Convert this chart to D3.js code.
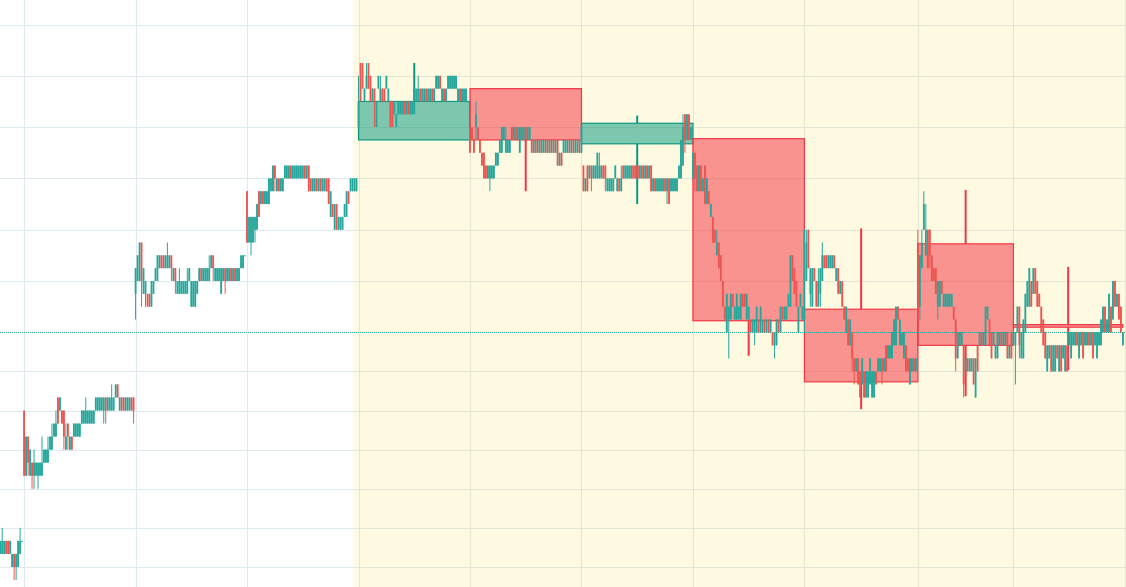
<!DOCTYPE html>
<html><head><meta charset="utf-8">
<script src="https://cdn.jsdelivr.net/npm/d3@7"></script>
<style>html,body{margin:0;padding:0;background:#fff;overflow:hidden}svg{display:block}</style>
</head><body><svg id="c" width="1126" height="587"></svg>
<script>
// Intraday candles, [open, high, low, close] in price-tick levels, one array per session
const dayA = [[2,3,2,3],[2,4,2,3],[2,3,2,3],[3,3,2,2],[3,3,2,2],[2,3,2,3],[1,2,1,2],[2,2,0,1],[1,2,0,2],[1,3,1,3],[2,4,2,3],[3,3,3,3]];
const dayB = [[13,13,8,8],[8,11,8,11],[11,11,8,9],[8,10,8,10],[9,9,7,8],[8,10,7,9],[8,9,8,9],[8,9,7,9],[8,9,8,9],[8,11,8,9],
[9,10,9,10],[9,10,9,10],[9,11,9,10],[10,11,10,11],[10,12,10,11],[11,12,11,12],[11,13,11,12],[14,14,12,12],[13,14,13,14],[13,13,12,12],
[13,13,10,11],[10,12,10,11],[12,12,10,11],[10,11,10,11],[11,11,10,10],[11,12,11,12],[11,12,11,12],[11,12,11,12],[11,12,11,12],[12,13,12,13],
[12,13,12,13],[12,14,12,13],[12,13,12,13],[12,13,12,13],[12,13,12,13],[12,13,12,13],[13,14,13,14],[13,14,13,14],[13,14,13,14],[13,14,13,14],
[13,14,12,14],[14,14,12,13],[13,14,13,14],[13,14,13,14],[13,15,13,14],[13,14,13,14],[14,15,14,15],[15,15,14,14],[13,14,13,14],[14,14,13,13],
[14,14,13,13],[13,14,13,14],[13,14,13,14],[13,14,13,14],[14,14,13,13],[14,14,12,13]];
const dayC = [[22,24,20,24],[23,25,23,25],[23,26,23,26],[26,26,21,23],[22,24,22,24],[22,23,21,23],[22,22,21,21],[22,22,21,21],[21,23,21,23],[22,23,22,23],
[23,24,23,24],[23,25,23,25],[24,25,24,25],[25,25,24,24],[25,25,24,24],[24,25,24,25],[24,26,24,25],[24,25,24,25],[25,25,23,24],[23,24,23,24],
[24,24,22,23],[22,23,22,23],[22,24,22,23],[22,23,22,23],[22,23,22,23],[22,23,22,23],[22,24,22,23],[23,24,23,24],[21,23,21,23],[21,23,21,23],
[21,23,21,23],[22,23,22,23],[23,24,23,24],[24,24,23,23],[23,24,23,24],[23,24,23,24],[23,24,23,24],[23,25,23,24],[24,25,24,25],[25,25,23,24],
[23,24,23,24],[23,24,23,24],[23,24,23,24],[22,24,22,24],[23,24,23,24],[24,24,22,23],[23,24,23,24],[23,24,23,24],[24,24,23,23],[23,24,23,24],
[24,24,23,23],[23,24,23,24],[23,24,23,24],[24,25,24,25],[24,25,24,25],[25,25,25,25]];
const dayD = [[30,30,26,26],[26,28,26,28],[26,28,25,28],[26,28,26,28],[27,28,26,28],[27,29,27,29],[30,30,28,28],[29,30,29,30],[30,30,29,29],[29,30,29,30],
[29,30,29,30],[29,31,29,31],[30,31,30,31],[30,32,30,32],[32,32,30,31],[30,31,30,31],[31,31,30,30],[30,31,30,31],[30,31,30,31],[31,32,31,32],
[31,32,31,32],[31,32,31,32],[32,32,31,31],[31,32,31,32],[31,32,31,32],[31,32,31,32],[31,32,31,32],[31,32,31,32],[31,32,31,32],[32,32,31,31],
[31,32,31,32],[32,32,30,30],[31,31,30,30],[30,31,30,31],[30,31,30,31],[31,31,30,30],[30,31,30,31],[31,31,30,30],[30,31,30,31],[30,31,30,31],
[31,31,30,30],[31,31,29,29],[28,30,28,30],[29,29,28,28],[27,29,27,29],[29,29,27,27],[27,28,27,28],[27,28,27,28],[27,28,27,28],[28,29,28,29],
[28,30,28,30],[30,30,29,29],[30,31,30,31],[30,31,30,31],[30,31,30,31],[30,31,30,31]];
const dayE = [[35,39,35,37],[40,40,37,37],[40,40,38,38],[37,38,37,38],[38,40,38,39],[40,40,38,38],[39,39,37,37],[37,38,37,38],[38,38,35,37],[35,37,35,37],
[38,39,38,39],[37,39,37,38],[38,38,37,37],[38,38,37,37],[38,39,38,39],[37,38,37,38],[37,37,35,35],[37,37,35,35],[36,37,36,37],[35,36,35,36],
[36,37,36,37],[36,37,36,37],[36,37,36,37],[37,37,36,36],[36,37,36,37],[37,37,36,36],[36,37,36,37],[36,37,36,37],[36,38,36,38],[37,38,37,38],
[37,39,37,38],[38,38,37,37],[37,38,37,38],[37,38,37,38],[38,38,37,37],[37,38,37,38],[37,38,37,38],[38,38,37,37],[37,38,37,38],[38,39,38,39],
[38,39,38,39],[39,39,38,38],[37,38,37,38],[38,38,37,37],[37,38,37,38],[38,39,38,39],[38,39,38,39],[38,39,38,39],[38,39,38,39],[38,39,38,39],
[37,38,37,38],[38,38,37,37],[37,38,37,38],[37,38,37,38],[37,38,37,38],[37,37,37,37]];
const dayF = [[35,35,33,33],[35,35,34,34],[34,34,33,33],[35,37,34,36],[35,35,34,34],[34,34,33,33],[33,33,32,32],[33,33,31,31],[32,32,31,31],[31,32,31,32],
[31,32,30,32],[31,32,31,32],[31,32,31,32],[32,33,32,33],[32,33,32,33],[33,34,33,34],[33,35,33,35],[34,35,34,35],[33,35,33,34],[33,34,33,34],
[33,34,33,34],[35,35,34,34],[34,35,34,35],[35,35,34,34],[34,35,34,35],[33,35,33,35],[34,35,34,35],[34,35,34,35],[35,35,34,34],[34,35,34,35],
[34,35,34,35],[34,34,33,33],[33,34,33,34],[34,34,33,33],[33,34,33,34],[34,34,33,33],[33,34,33,34],[33,34,33,34],[34,34,33,33],[33,34,33,34],
[34,34,33,33],[33,34,33,34],[34,34,33,33],[33,34,33,34],[34,34,32,32],[32,33,32,33],[33,33,32,32],[33,34,33,34],[33,34,33,34],[33,34,33,34],
[34,34,33,33],[33,34,33,34],[34,34,33,33],[33,34,33,34],[33,34,33,34],[34,34,33,33]];
const dayG = [[33,35,33,35],[32,32,30,30],[30,31,30,31],[32,32,30,30],[31,32,31,32],[32,32,30,31],[31,32,31,32],[31,32,31,32],[31,33,31,33],[31,33,31,32],
[31,32,31,32],[32,32,31,31],[32,32,30,31],[30,31,30,31],[30,31,30,31],[30,31,30,31],[30,31,30,31],[31,32,31,32],[30,31,30,31],[31,31,30,30],
[30,32,30,31],[32,32,31,31],[31,32,31,32],[31,32,31,32],[31,32,31,32],[31,32,31,32],[32,32,31,31],[32,32,31,31],[32,32,31,31],[32,32,31,31],
[31,32,31,32],[32,32,31,31],[31,32,31,32],[32,32,31,31],[31,32,31,32],[32,32,30,30],[30,31,30,31],[31,31,30,30],[30,31,30,31],[30,31,30,31],
[30,31,30,31],[30,31,30,31],[31,31,30,30],[30,31,29,31],[31,31,29,29],[30,31,30,31],[30,31,30,31],[30,31,30,31],[30,31,30,31],[31,32,31,32],
[31,34,31,34],[32,36,32,35],[36,36,33,34],[34,36,34,36],[36,36,34,34],[34,35,34,35]];
const dayH = [[31,33,31,33],[33,33,30,31],[32,32,30,30],[30,32,30,32],[32,32,30,30],[30,31,30,31],[32,32,29,29],[29,31,29,31],[30,30,29,29],[28,29,28,29],
[28,28,26,26],[27,27,26,26],[25,27,25,26],[26,26,24,24],[25,25,23,23],[23,23,21,21],[21,21,20,20],[19,22,19,22],[20,21,17,21],[20,22,20,22],
[22,22,21,21],[20,21,20,21],[20,22,20,22],[20,21,20,21],[20,22,20,22],[22,22,21,21],[22,22,21,21],[20,22,20,22],[20,21,20,21],[20,20,19,19],
[19,20,19,20],[19,20,18,20],[19,21,19,21],[20,20,19,19],[19,21,19,21],[19,20,19,20],[20,20,19,19],[19,20,19,20],[20,20,19,19],[19,20,19,20],
[19,19,18,18],[18,19,17,19],[18,20,18,20],[20,20,19,19],[19,21,19,21],[21,21,20,20],[20,21,20,21],[20,21,20,21],[21,22,21,22],[21,25,21,25],
[25,25,23,23],[24,24,22,22],[23,23,21,21],[19,21,19,21],[21,22,21,22],[20,21,20,21]];
const dayI = [[20,27,19,27],[23,27,23,26],[27,27,24,24],[22,24,21,24],[21,24,21,24],[24,24,23,23],[23,23,21,21],[21,24,21,23],[22,24,21,24],[23,26,23,25],
[25,25,24,24],[25,25,24,24],[24,25,24,25],[24,25,24,25],[24,25,24,25],[25,25,24,24],[23,24,23,24],[24,24,22,22],[22,23,22,23],[23,23,21,21],
[21,21,20,20],[19,21,19,21],[20,20,18,18],[18,20,18,20],[19,19,16,17],[17,17,15,16],[16,17,16,17],[17,17,15,15],[16,16,14,14],[15,17,15,17],
[16,16,14,14],[14,16,14,16],[14,16,14,16],[15,17,15,17],[14,16,14,16],[14,16,14,16],[16,16,15,15],[16,17,16,17],[16,17,16,17],[17,17,15,16],
[16,17,16,17],[18,18,16,16],[17,18,17,18],[17,18,17,18],[17,19,17,19],[18,20,18,20],[18,21,18,21],[21,21,20,20],[18,20,18,20],[18,19,18,19],
[17,19,17,19],[18,18,16,16],[17,17,16,16],[15,17,15,17],[16,17,16,17],[17,17,16,16],[16,17,16,17]];
const dayJ = [[26,27,20,21],[21,25,20,25],[24,27,24,26],[27,30,27,29],[25,29,25,27],[27,27,24,24],[27,27,24,25],[25,25,23,23],[24,24,23,23],[24,24,22,22],
[21,23,20,23],[21,23,21,23],[23,23,22,22],[21,22,21,22],[21,22,21,22],[21,22,21,22],[21,22,21,22],[21,22,21,22],[21,21,20,20],[20,20,16,17],
[17,19,17,19],[18,19,18,19],[18,19,18,19],[18,18,14,15],[16,17,16,17],[17,17,16,16],[16,17,16,17],[16,17,16,17],[17,17,15,15],[14,17,14,17],
[18,18,16,16],[18,19,18,19],[19,19,18,18],[18,19,18,19],[18,21,18,21],[20,21,20,21],[20,20,18,18],[19,19,17,17],[18,19,18,19],[17,18,17,18],
[17,19,17,19],[18,19,18,19],[19,19,18,18],[18,19,18,19],[18,19,18,19],[19,19,17,17],[17,18,17,18],[19,19,17,17]];
const dayK = [[18,19,18,19],[18,19,15,19],[19,21,19,21],[21,21,17,18],[17,19,17,19],[17,20,17,20],[19,22,19,22],[21,23,21,23],[21,24,21,24],[23,23,21,21],
[22,24,22,24],[24,24,22,22],[23,23,21,21],[22,22,21,21],[21,21,19,19],[20,20,18,18],[19,19,17,17],[16,18,16,18],[17,18,17,18],[18,18,16,16],
[16,18,16,18],[16,18,16,18],[18,18,17,17],[16,18,16,18],[18,18,16,16],[17,18,17,18],[16,18,16,18],[18,18,16,16],[18,19,18,19],[17,19,17,19],
[18,19,18,19],[18,19,18,19],[19,19,18,18],[17,19,17,19],[18,19,18,19],[19,19,17,17],[18,19,18,19],[18,19,18,19],[19,19,18,18],[18,19,18,19],
[19,19,17,17],[18,19,18,19],[17,19,17,19],[18,19,18,19],[18,20,18,20],[19,21,19,21],[21,21,19,19],[19,20,19,20],[19,22,19,22],[21,21,19,19],
[20,23,20,23],[23,23,21,21],[21,22,21,22],[22,22,20,20],[21,21,19,19],[18,19,18,19]];

// Daily (higher timeframe) candles over the highlighted sessions
const dailyStart = [180,236,292,348,404,461,509];
const dailyEnd   = [236,292,348,404,461,509,564];
const dailyOpen  = [34,38,33.7,34.1,20.8,25.9,19.6];
const dailyHigh  = [40,38,35.9,34.1,27.1,30.1,24.1];
const dailyLow   = [34,30,29,17.2,13.1,14.1,16.1];
const dailyClose = [37,34,35.3,19.9,15.2,18,19.4];

// Grid levels / session boundaries
const priceGrid = [1,4,7,10,13,16,19,23,27,31,35,39,43];
const timeGrid = [12,68,124,180,236,292,348,404,461,509,565];
const highlightStart = 177.2;

const W = 1126, H = 587;
const candles = [].concat(dayA, dayB, dayC, dayD, dayE, dayF, dayG, dayH, dayI, dayJ, dayK)
  .map((d, i) => ({i, o: d[0], h: d[1], l: d[2], c: d[3]}));
const lastClose = candles[candles.length - 1].c;

const x = d3.scaleLinear().domain([0, 564]).range([0.21, 1122.9]);
const y = d3.scaleLinear().domain([0, 19, 40]).range([580, 332.3, 63]);

const UP = '#26a69a', DOWN = '#ef5350';
const DUP = '#089981', DDOWN = '#f23645';
const svg = d3.select('#c');

svg.append('rect').attr('width', W).attr('height', H).attr('fill', '#ffffff');

const grid = svg.append('g').attr('shape-rendering', 'crispEdges').attr('stroke', '#dfe9f0').attr('stroke-width', 1);
grid.selectAll('line.h').data(priceGrid).join('line').attr('class', 'h')
  .attr('x1', 0).attr('x2', W)
  .attr('y1', d => Math.round(y(d)) + 0.5).attr('y2', d => Math.round(y(d)) + 0.5);
grid.selectAll('line.v').data(timeGrid).join('line').attr('class', 'v')
  .attr('y1', 0).attr('y2', H)
  .attr('x1', d => Math.round(x(d)) + 0.5).attr('x2', d => Math.round(x(d)) + 0.5);

svg.append('rect')
  .attr('x', x(highlightStart)).attr('y', 0)
  .attr('width', W - x(highlightStart)).attr('height', H)
  .attr('fill', 'rgb(250,220,70)').attr('fill-opacity', 0.16);

const daily = dailyStart.map((s, k) => ({s, e: dailyEnd[k], o: dailyOpen[k], h: dailyHigh[k], l: dailyLow[k], c: dailyClose[k]}));
const dg = svg.append('g');
daily.forEach(d => {
  const col = d.c >= d.o ? DUP : DDOWN;
  const cx = (x(d.s) + x(d.e)) / 2;
  const top = Math.max(d.o, d.c), bot = Math.min(d.o, d.c);
  if (d.h > top) dg.append('line').attr('x1', cx).attr('x2', cx).attr('y1', y(d.h)).attr('y2', y(top)).attr('stroke', col).attr('stroke-width', 2);
  if (d.l < bot) dg.append('line').attr('x1', cx).attr('x2', cx).attr('y1', y(bot)).attr('y2', y(d.l)).attr('stroke', col).attr('stroke-width', 2);
  dg.append('rect')
    .attr('x', x(d.s)).attr('y', y(top))
    .attr('width', x(d.e) - x(d.s)).attr('height', Math.max(1, y(bot) - y(top)))
    .attr('fill', col).attr('fill-opacity', 0.52)
    .attr('stroke', col).attr('stroke-width', 1.2);
});

svg.append('line')
  .attr('shape-rendering', 'crispEdges')
  .attr('x1', 0).attr('x2', W)
  .attr('y1', Math.round(y(lastClose)) + 0.5).attr('y2', Math.round(y(lastClose)) + 0.5)
  .attr('stroke', UP).attr('stroke-width', 1).attr('stroke-dasharray', '1,1');

const cg = svg.append('g');
cg.selectAll('line').data(candles).join('line')
  .attr('x1', d => x(d.i)).attr('x2', d => x(d.i))
  .attr('y1', d => y(d.h)).attr('y2', d => y(d.l))
  .attr('stroke', d => d.c >= d.o ? UP : DOWN).attr('stroke-width', 1);
cg.selectAll('rect').data(candles).join('rect')
  .attr('x', d => x(d.i) - 0.9).attr('width', 1.8)
  .attr('y', d => y(Math.max(d.o, d.c)))
  .attr('height', d => Math.max(1, Math.abs(y(d.o) - y(d.c))))
  .attr('fill', d => d.c >= d.o ? UP : DOWN);
</script>
</body></html>
